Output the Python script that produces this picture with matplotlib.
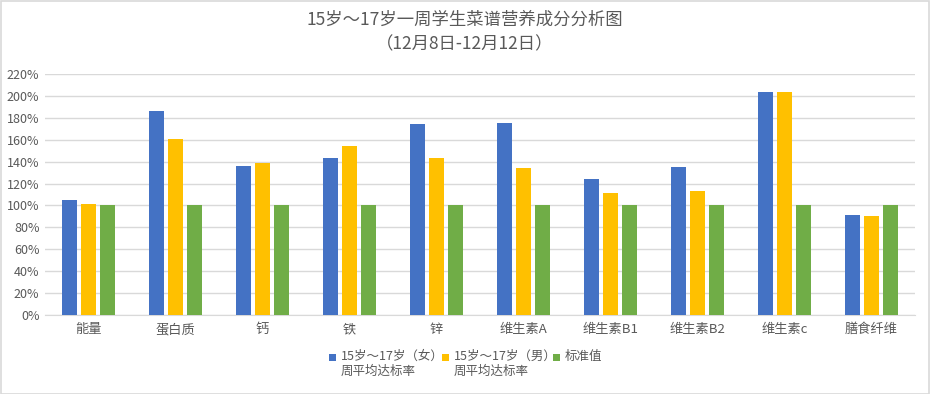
import matplotlib
matplotlib.use("Agg")
import matplotlib.pyplot as plt
import numpy as np
from matplotlib.patches import Rectangle
from matplotlib.ticker import FuncFormatter

plt.rcParams['font.family'] = ['Noto Sans CJK SC', 'DejaVu Sans']

categories = ["能量", "蛋白质", "钙", "铁", "锌", "维生素A", "维生素B1", "维生素B2", "维生素c", "膳食纤维"]
female = [105, 186, 136, 143.5, 174, 175, 124.5, 135.5, 204, 91.5]
male = [101.5, 161, 139, 154.5, 143.5, 134.5, 111.5, 113.5, 204, 90.5]
standard = [100, 100, 100, 100, 100, 100, 100, 100, 100, 100]
series_names = ["15岁～17岁（女）\n周平均达标率", "15岁～17岁（男）\n周平均达标率", "标准值"]
colors = ["#4472C4", "#FFC000", "#70AD47"]

W, H = 930, 394
fig = plt.figure(figsize=(W / 100, H / 100), dpi=100)
fig.patches.append(Rectangle((0.001, 0.001), 0.998, 0.997, transform=fig.transFigure,
                             fill=False, edgecolor="#D9D9D9", linewidth=1.2))
ax = fig.add_axes([45 / W, 1 - 315 / H, (915 - 45) / W, (315 - 74) / H])

x = np.arange(len(categories))
w = 0.18
step = 0.22
for i, (vals, c) in enumerate(zip([female, male, standard], colors)):
    ax.bar(x + (i - 1) * step, vals, width=w, color=c, label=series_names[i], zorder=3)

ax.set_xlim(-0.5, len(categories) - 0.5)
ax.set_ylim(0, 220)
ax.set_yticks(np.arange(0, 221, 20))
ax.yaxis.set_major_formatter(FuncFormatter(lambda v, p: f"{int(v)}%"))
ax.grid(axis='y', color="#D9D9D9", linewidth=1, zorder=0)
for s in ["top", "right", "left"]:
    ax.spines[s].set_visible(False)
ax.spines["bottom"].set_color("#D9D9D9")
ax.tick_params(axis='both', length=0, colors="#595959", labelsize=9)
ax.tick_params(axis='x', labelsize=9.5, pad=6)
ax.tick_params(axis='y', pad=4)
ax.set_xticks(x)
ax.set_xticklabels(categories)

fig.text(0.5, 1 - 20 / H, "15岁～17岁一周学生菜谱营养成分分析图", ha='center', va='center',
         fontsize=12.5, color="#595959")
fig.text(0.5, 1 - 44 / H, "（12月8日-12月12日）", ha='center', va='center',
         fontsize=12.5, color="#595959")

# Legend drawn manually: square marker aligned with first text line
legend_x = [329, 442, 553]
for lx, name, c in zip(legend_x, series_names, colors):
    fig.patches.append(Rectangle((lx / W, 1 - 361 / H), 7 / W, 7 / H, transform=fig.transFigure,
                                 facecolor=c, edgecolor='none'))
    fig.text((lx + 12) / W, 1 - 350 / H, name, ha='left', va='top', fontsize=9,
             color="#595959", linespacing=1.2)

fig.savefig("out.png", dpi=100)
